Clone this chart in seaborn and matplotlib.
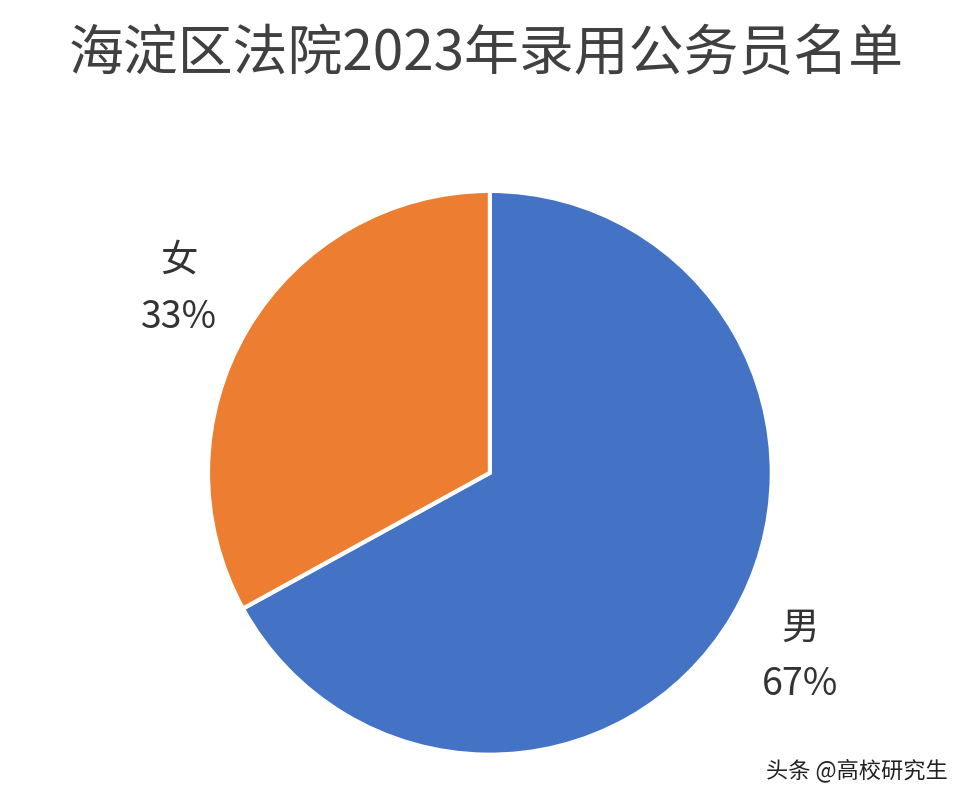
import matplotlib
matplotlib.use("Agg")
import matplotlib.pyplot as plt
import seaborn as sns

# chart data
labels = ["男", "女"]
shares = [67, 33]
colors = ["#4472C4", "#ED7D31"]
title = "海淀区法院2023年录用公务员名单"
watermark = "头条 @高校研究生"

sns.set_theme(style="white")
plt.rcParams["font.family"] = ["Noto Sans CJK SC", "DejaVu Sans"]

fig = plt.figure(figsize=(9.72, 7.98), dpi=100)
ax = fig.add_axes([0.214, 0.054, 0.580, 0.707])

texts = [f"{l}\n{s}%" for l, s in zip(labels, shares)]
wedges, txts = ax.pie(
    shares, labels=texts, colors=colors, startangle=90, counterclock=False,
    labeldistance=1.28, wedgeprops=dict(edgecolor="white", linewidth=3),
    textprops=dict(fontsize=27, color="#333333", ha="center", va="center",
                   linespacing=1.6, clip_on=False),
)
ax.set_xlim(-1, 1)
ax.set_ylim(-1, 1)
ax.set_aspect("equal")
for w in wedges:
    w.set_clip_on(False)

fig.text(0.5, 0.932, title, ha="center", va="center", fontsize=39.5, color="#404040")
fig.text(0.975, 0.035, watermark, ha="right", va="center", fontsize=16, color="#222222")

fig.savefig("out.png", dpi=100)
